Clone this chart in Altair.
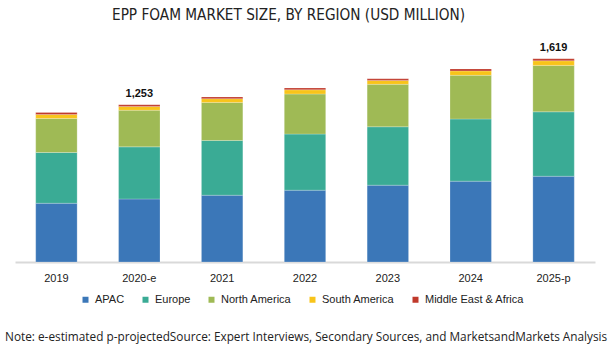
import altair as alt
import pandas as pd

years = ["2019", "2020-e", "2021", "2022", "2023", "2024", "2025-p"]
regions = ["APAC", "Europe", "North America", "South America", "Middle East & Africa"]
colors = ["#3b77b8", "#3aab95", "#9fba55", "#f8c41a", "#c0392b"]

apac = [468, 502, 532, 572, 612, 644, 683]
europe = [404, 415, 436, 447, 465, 495, 513]
north_america = [271, 292, 303, 319, 338, 348, 370]
south_america = [32, 30, 30, 34, 30, 35, 37]
mea = [16, 14, 14, 14, 14, 16, 16]
labelled_years = ["2020-e", "2025-p"]

series = [apac, europe, north_america, south_america, mea]
rows = []
for ri, (reg, vals) in enumerate(zip(regions, series)):
    for y, v in zip(years, vals):
        rows.append({"year": y, "region": reg, "value": v, "order": ri})
df = pd.DataFrame(rows)

x_enc = alt.X("year:N", sort=years, title=None,
              scale=alt.Scale(paddingInner=0.5, paddingOuter=0.25),
              axis=alt.Axis(labelAngle=0, ticks=False, domainColor="#d9d9d9", domainWidth=2,
                            labelFont="Liberation Sans", labelFontSize=11, labelColor="#222",
                            labelPadding=10))

bars = alt.Chart(df).mark_bar(stroke="#ffffff", strokeOpacity=0.45, strokeWidth=0.5).encode(
    x=x_enc,
    y=alt.Y("value:Q", stack="zero", title=None,
            scale=alt.Scale(domain=[0, 1800], nice=False),
            axis=None),
    color=alt.Color("region:N", sort=regions,
                    scale=alt.Scale(domain=regions, range=colors),
                    legend=alt.Legend(title=None, orient="none", direction="horizontal",
                                      legendX=65, legendY=258, symbolType="square",
                                      symbolSize=36, symbolStrokeWidth=0,
                                      labelFont="Liberation Sans", labelFontSize=11,
                                      labelColor="#222", columnPadding=15, labelOffset=4)),
    order=alt.Order("order:Q"),
)

totals = alt.Chart(df).transform_aggregate(
    total="sum(value)", groupby=["year"]
).transform_filter(
    alt.FieldOneOfPredicate(field="year", oneOf=labelled_years)
).mark_text(dy=-11, fontWeight="bold", font="Liberation Sans", fontSize=11, color="#111").encode(
    x=alt.X("year:N", sort=years),
    y=alt.Y("total:Q"),
    text=alt.Text("total:Q", format=",.0f"),
)

note = alt.Chart(pd.DataFrame({"t": ["Note: e-estimated p-projectedSource: Expert Interviews, Secondary Sources, and MarketsandMarkets Analysis"]})).mark_text(
    align="left", baseline="middle", font="Open Sans", fontSize=11.8, color="#222"
).encode(x=alt.value(-10), y=alt.value(301), text="t:N")

chart = alt.layer(bars, totals, note).properties(
    width=580, height=226,
    title=alt.Title("EPP FOAM MARKET SIZE, BY REGION (USD MILLION)", anchor="start", dx=107,
                    font="DejaVu Sans Condensed", fontSize=15.2, fontWeight="normal",
                    color="#222", offset=13),
    autosize=alt.AutoSizeParams(type="none"),
    padding={"left": 15, "top": 36, "right": 15, "bottom": 90},
).configure_view(stroke=None)

chart.save("out.html", embed_options={"renderer": "svg", "actions": False})
